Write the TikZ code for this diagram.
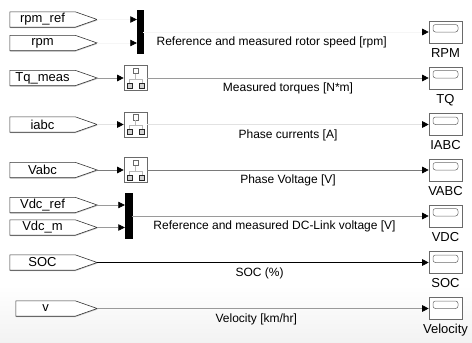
\documentclass[tikz,border=0pt]{standalone}
\usepackage{fontspec}
\setmainfont{Liberation Sans}
\usetikzlibrary{arrows.meta,shadows}
\definecolor{nearwhite}{HTML}{F6F6F6}
\definecolor{faintline}{HTML}{E2E2E2}
\definecolor{midline}{HTML}{9A9A9A}
\definecolor{darkline}{HTML}{7A7A7A}
\definecolor{blockedge}{HTML}{6A6A6A}
\tikzset{
  tagbody/.style={minimum width=65pt,minimum height=15pt,inner sep=0pt,font=\fontsize{13}{14}\selectfont},
  tagedge/.style={draw=black!80,fill=white,line width=0.6pt,line join=miter,
    drop shadow={shadow xshift=0.5pt,shadow yshift=-0.9pt,fill=gray!70,opacity=0.6}},
  muxbar/.style={draw=black,fill=black,minimum width=6pt,inner sep=0pt},
  selbox/.style={draw=blockedge,fill=white,line width=0.6pt,minimum width=23pt,minimum height=25pt,inner sep=0pt,
    drop shadow={shadow xshift=0.8pt,shadow yshift=-0.8pt,fill=gray!60,opacity=0.6},
    path picture={
      \coordinate (pc) at (path picture bounding box.center);
      \draw[blockedge,line width=0.5pt] ([shift={(-2.5pt,4.5pt)}]pc) rectangle ([shift={(2.5pt,10pt)}]pc);
      \draw[gray!55,line width=0.5pt] ([shift={(0pt,4.5pt)}]pc) -- ([shift={(0pt,-1pt)}]pc);
      \draw[gray!55,line width=0.5pt] ([shift={(-6pt,-5pt)}]pc) |- ([shift={(6.5pt,-1pt)}]pc) -- ([shift={(6.5pt,-5pt)}]pc);
      \draw[black!85,fill=gray!35,line width=0.8pt] ([shift={(-8.5pt,-5pt)}]pc) rectangle ([shift={(-3.5pt,-10pt)}]pc);
      \draw[black!85,fill=gray!35,line width=0.8pt] ([shift={(4pt,-5pt)}]pc) rectangle ([shift={(9pt,-10pt)}]pc);
    }},
  disp/.style={draw=blockedge,fill=white,line width=0.6pt,minimum width=33pt,minimum height=22pt,inner sep=0pt,
    drop shadow={shadow xshift=0.8pt,shadow yshift=-0.8pt,fill=gray!60,opacity=0.6},
    path picture={
      \draw[blockedge,rounded corners=2.5pt,line width=0.5pt]
        ([shift={(4pt,-3.5pt)}]path picture bounding box.north west) rectangle
        ([shift={(-4pt,-11pt)}]path picture bounding box.north east);
    }},
  dlabel/.style={font=\fontsize{13}{14}\selectfont,inner sep=0pt,text height=9.5pt,text depth=2.5pt},
  slabel/.style={font=\fontsize{12}{13}\selectfont,inner sep=0pt},
  sig/.style={line width=0.6pt,-{Triangle[length=6.5pt,width=6.5pt,color=black]}}
}
\begin{document}
\begin{tikzpicture}[x=1pt,y=-1pt]
  \useasboundingbox (0,0) rectangle (472,343);
  \fill[top color=white,bottom color=gray!10,draw=none] (0,285) rectangle (472,343);

  % source tags (body first, outline behind the text)
  \node[tagbody] (rpmref) at (42.5,19.5) {};
  \node[tagbody] (rpmtag) at (42.5,43) {};
  \node[tagbody] (tqtag) at (42.5,78) {};
  \node[tagbody] (itag) at (42.5,124.5) {};
  \node[tagbody] (vtag) at (42.5,170) {};
  \node[tagbody] (vdcref) at (42.5,205) {};
  \node[tagbody] (vdcm) at (42.5,227.5) {};
  \node[tagbody] (soctag) at (42.5,262.5) {};
  \node[tagbody,minimum width=59pt] (veltag) at (45.5,308.5) {};
  \foreach \tg in {rpmref,rpmtag,tqtag,itag,vtag,vdcref,vdcm,soctag,veltag}{
    \coordinate (\tg-tip) at ([xshift=22pt]\tg.east);
    \draw[tagedge] (\tg.north west) -- (\tg.north east) -- (\tg-tip)
      -- (\tg.south east) -- (\tg.south west) -- cycle;
  }
  \node[tagbody] (rpmreft) at (rpmref) {rpm\_ref};
  \node[tagbody] (rpmtagt) at (rpmtag) {rpm};
  \node[tagbody] (tqtagt) at (tqtag) {Tq\_meas};
  \node[tagbody] (itagt) at (itag) {iabc};
  \node[tagbody] (vtagt) at (vtag) {Vabc};
  \node[tagbody] (vdcreft) at (vdcref) {Vdc\_ref};
  \node[tagbody] (vdcmt) at (vdcm) {Vdc\_m};
  \node[tagbody] (soctagt) at (soctag) {SOC};
  \node[tagbody,minimum width=59pt] (veltagt) at (veltag) {v};

  % mux bars and selectors
  \node[muxbar,minimum height=43pt] (rpmmux) at (140,31.5) {};
  \node[muxbar,minimum width=7pt,minimum height=45pt] (vdcmux) at (128.5,215.5) {};
  \node[selbox] (tqsel) at (135.5,78) {};
  \node[selbox] (isel) at (135.5,124.5) {};
  \node[selbox] (vsel) at (135.5,170) {};

  % displays
  \node[disp] (rpmdisp) at (445.5,32) {};
  \node[dlabel,below=4pt] (rpmdispl) at (rpmdisp.south) {RPM};
  \node[disp] (tqdisp) at (445.5,78) {};
  \node[dlabel,below=4pt] (tqdispl) at (tqdisp.south) {TQ};
  \node[disp] (idisp) at (445.5,124.5) {};
  \node[dlabel,below=4pt] (idispl) at (idisp.south) {IABC};
  \node[disp] (vdisp) at (445.5,170) {};
  \node[dlabel,below=4pt] (vdispl) at (vdisp.south) {VABC};
  \node[disp] (vdcdisp) at (445.5,216) {};
  \node[dlabel,below=4pt] (vdcdispl) at (vdcdisp.south) {VDC};
  \node[disp] (socdisp) at (445.5,262.5) {};
  \node[dlabel,below=4pt] (socdispl) at (socdisp.south) {SOC};
  \node[disp] (veldisp) at (445.5,308.5) {};
  \node[dlabel,below=4pt] (veldispl) at (veldisp.south) {Velocity};

  % signal lines
  \draw[sig,draw=nearwhite] (rpmref-tip) -- (rpmref-tip -| rpmmux.west);
  \draw[sig,draw=nearwhite] (rpmtag-tip) -- (rpmtag-tip -| rpmmux.west);
  \draw[sig,draw=nearwhite] (rpmmux.east |- rpmdisp) -- (rpmdisp.west)
    node[slabel,pos=0.45,below=5pt] (rpmlab) {Reference and measured rotor speed [rpm]};
  \draw[sig,draw=midline] (tqtag-tip) -- (tqsel.west);
  \draw[sig,draw=midline] (tqsel.east) -- (tqdisp.west)
    node[slabel,midway,below=5pt] (tqlab) {Measured torques [N*m]};
  \draw[sig,draw=faintline] (itag-tip) -- (isel.west);
  \draw[sig,draw=faintline] (isel.east) -- (idisp.west)
    node[slabel,midway,below=5pt] (ilab) {Phase currents [A]};
  \draw[sig,draw=darkline] (vtag-tip) -- (vsel.west);
  \draw[sig,draw=darkline] (vsel.east) -- (vdisp.west)
    node[slabel,midway,below=5pt] (vlab) {Phase Voltage [V]};
  \draw[sig,draw=midline] (vdcref-tip) -- (vdcref-tip -| vdcmux.west);
  \draw[sig,draw=midline] (vdcm-tip) -- (vdcm-tip -| vdcmux.west);
  \draw[sig,draw=midline] (vdcmux.east |- vdcdisp) -- (vdcdisp.west)
    node[slabel,pos=0.48,below=5pt] (vdclab) {Reference and measured DC-Link voltage [V]};
  \draw[sig,draw=black] (soctag-tip) -- (socdisp.west)
    node[slabel,pos=0.49,below=5pt] (soclab) {SOC (\%)};
  \draw[sig,draw=midline] (veltag-tip) -- (veldisp.west)
    node[slabel,pos=0.48,below=5pt] (vellab) {Velocity [km/hr]};
\end{tikzpicture}
\end{document}
